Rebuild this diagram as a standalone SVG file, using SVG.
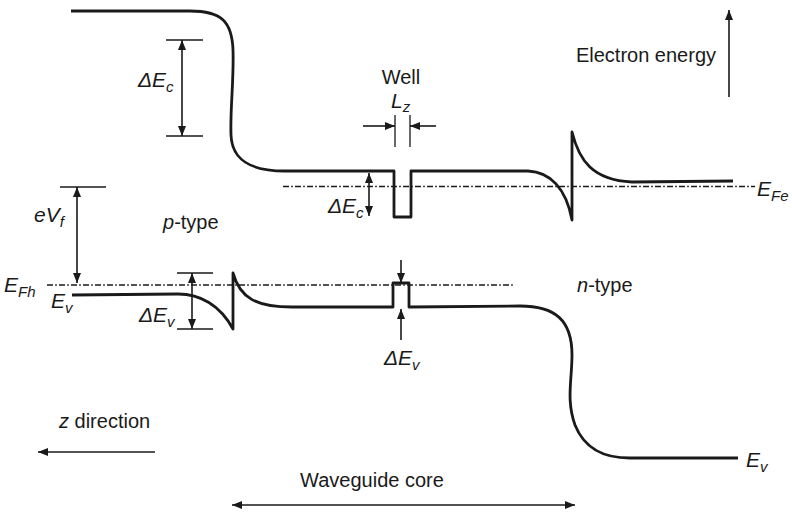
<svg xmlns="http://www.w3.org/2000/svg" width="792" height="515" viewBox="0 0 792 515">
<style>
  .band{fill:none;stroke:#1a1a1a;stroke-width:2.8;stroke-linejoin:round;stroke-linecap:butt}
  .fermi{fill:none;stroke:#1a1a1a;stroke-width:1.3;stroke-dasharray:6 2.2 1.6 2.2}
  .tick{fill:none;stroke:#1a1a1a;stroke-width:1.3}
  .arr{fill:none;stroke:#1a1a1a;stroke-width:1.6}
  text{font-family:"Liberation Sans",Arial,sans-serif;fill:#1a1a1a}
  .lbl{font-size:20px}
  .m{font-size:21px;font-style:italic}
  .sub{font-size:15px}
</style>
<defs>
  <marker id="ah" viewBox="0 0 10 8" refX="10" refY="4" markerWidth="10" markerHeight="8" markerUnits="userSpaceOnUse" orient="auto-start-reverse">
    <path d="M0,0 L10,4 L0,8 z" fill="#1a1a1a"/>
  </marker>
</defs>

<g id="conduction-band">
  <path class="band" d="M71,11 L190,11 C222,11 232,22 233,50 C234,80 230,110 231,135 C232,160 250,171 285,171 L394,171 L394,217 L411,217 L411,171 L528,171 C550,172 566,188 572,220 L572,132 C579,160 592,180 632,182 L733,181"/>
</g>
<g id="valence-band">
  <path class="band" d="M72,295 L178,294 C200,294 220,305 233,329 L233,273 C240,298 256,307 292,307 L393,307 L393,283 L409,283 L409,307 L520,306 C555,306 572,320 572,355 C572,380 566,400 575,425 C585,450 605,458 630,458 L738,458"/>
</g>
<g id="fermi-levels">
  <path class="fermi" d="M283,186.5 L755,186.5"/>
  <path class="fermi" d="M47,285 L515,285"/>
</g>

<g id="connectors">
  <path class="tick" d="M166,40 H203 M166,136 H203"/>
  <path class="arr" d="M182,40 V136" marker-start="url(#ah)" marker-end="url(#ah)"/>
  <path class="tick" d="M60,187 H106"/>
  <path class="arr" d="M77,187 V283" marker-start="url(#ah)" marker-end="url(#ah)"/>
  <path class="tick" d="M177,273 H213 M177,329 H213"/>
  <path class="arr" d="M192,273 V329" marker-start="url(#ah)" marker-end="url(#ah)"/>
  <path class="arr" d="M369,173 V216" marker-start="url(#ah)" marker-end="url(#ah)"/>
  <path class="tick" d="M395,115 V147 M410,115 V147"/>
  <path class="arr" d="M363,126 H395" marker-end="url(#ah)"/>
  <path class="arr" d="M436,126 H410" marker-end="url(#ah)"/>
  <path class="arr" d="M401,260 V283" marker-end="url(#ah)"/>
  <path class="arr" d="M401,340 V309" marker-end="url(#ah)"/>
  <path class="arr" d="M729,97 V10" marker-end="url(#ah)"/>
  <path class="arr" d="M155,452 H38" marker-end="url(#ah)"/>
  <path class="arr" d="M232,505 H575" marker-start="url(#ah)" marker-end="url(#ah)"/>
</g>

<g id="labels">
  <text class="m" x="138" y="87">ΔE<tspan class="sub" dy="5">c</tspan></text>
  <text class="m" x="34" y="222">eV<tspan class="sub" dy="5">f</tspan></text>
  <text class="lbl" x="163" y="229"><tspan font-style="italic">p</tspan>-type</text>
  <text class="m" x="4" y="292">E<tspan class="sub" dy="5">Fh</tspan></text>
  <text class="m" x="51" y="308">E<tspan class="sub" dy="5">v</tspan></text>
  <text class="m" x="139" y="322">ΔE<tspan class="sub" dy="5">v</tspan></text>
  <text class="m" x="328" y="213">ΔE<tspan class="sub" dy="5">c</tspan></text>
  <text class="lbl" x="401" y="84" text-anchor="middle">Well</text>
  <text class="m" x="391" y="108">L<tspan class="sub" dy="4">z</tspan></text>
  <text class="lbl" x="716" y="62" text-anchor="end">Electron energy</text>
  <text class="m" x="757" y="196">E<tspan class="sub" dy="5">Fe</tspan></text>
  <text class="lbl" x="577" y="292"><tspan font-style="italic">n</tspan>-type</text>
  <text class="m" x="384" y="365">ΔE<tspan class="sub" dy="5">v</tspan></text>
  <text class="lbl" x="59" y="428"><tspan font-style="italic">z</tspan> direction</text>
  <text class="lbl" x="372" y="487" text-anchor="middle">Waveguide core</text>
  <text class="m" x="746" y="467">E<tspan class="sub" dy="5">v</tspan></text>
</g>
</svg>
